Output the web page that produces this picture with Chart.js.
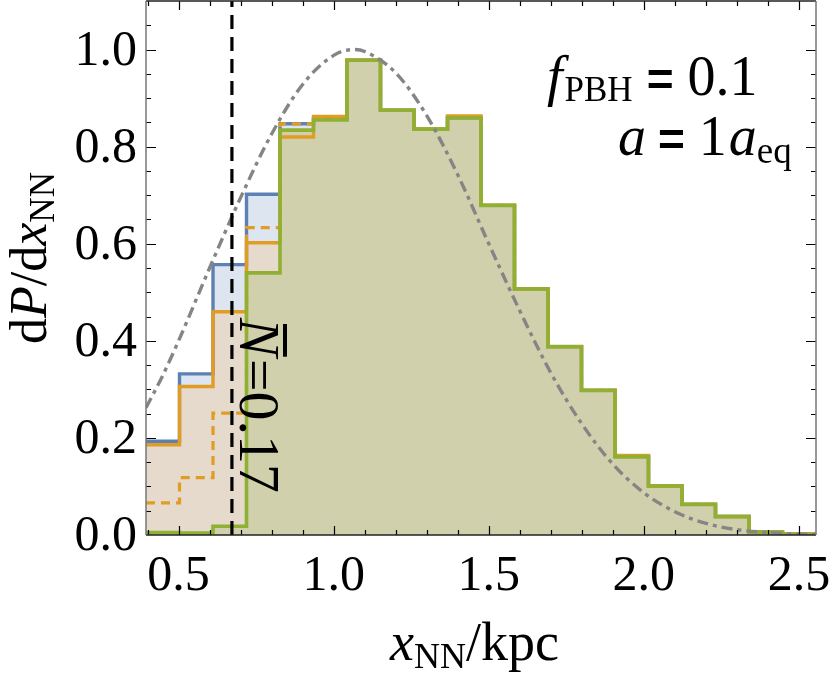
<!DOCTYPE html>
<html>
<head>
<meta charset="utf-8">
<script src="https://cdn.jsdelivr.net/npm/chart.js@4.4.1/dist/chart.umd.min.js"></script>
<style>
    html, body { margin: 0; padding: 0; background: #ffffff; }
</style>
</head>
<body>
<canvas id="nn-chart" width="834" height="675"></canvas>
<script>
// histogram bins (kpc), 20 bins over the plotted range
var binEdges = [0.395, 0.503, 0.611, 0.719, 0.827, 0.935, 1.043, 1.151, 1.259, 1.367, 1.475,
                1.583, 1.691, 1.799, 1.907, 2.015, 2.123, 2.231, 2.339, 2.447, 2.555];
var blueValues = [0.193, 0.332, 0.557, 0.702, 0.847, 0.857, 0.978, 0.875, 0.836, 0.860,
                  0.679, 0.507, 0.388, 0.298, 0.162, 0.101, 0.063, 0.038, 0.006, 0.002];
var orangeValues = [0.186, 0.306, 0.460, 0.602, 0.820, 0.862, 0.978, 0.875, 0.836, 0.863,
                    0.679, 0.507, 0.388, 0.298, 0.164, 0.101, 0.063, 0.038, 0.006, 0.002];
var orangeDashedValues = [0.066, 0.118, 0.251, 0.633, 0.847, 0.858, 0.978, 0.875, 0.836, 0.860,
                          0.679, 0.507, 0.388, 0.298, 0.162, 0.101, 0.063, 0.038, 0.006, 0.002];
var greenValues = [0.005, 0.004, 0.018, 0.540, 0.834, 0.855, 0.978, 0.875, 0.836, 0.859,
                   0.679, 0.507, 0.388, 0.298, 0.161, 0.101, 0.063, 0.038, 0.006, 0.001];

// analytic distribution (grey dot-dashed)
var curveX = [0.395, 0.45, 0.5, 0.6, 0.7, 0.8, 0.9, 1.0, 1.066, 1.1, 1.2, 1.3, 1.4, 1.5,
              1.6, 1.7, 1.8, 1.9, 2.0, 2.1, 2.2, 2.3, 2.4, 2.5, 2.555];
var curveY = [0.262, 0.330, 0.400, 0.550, 0.695, 0.826, 0.928, 0.988, 1.000, 0.996, 0.952, 0.864, 0.742, 0.600,
              0.462, 0.334, 0.229, 0.146, 0.087, 0.048, 0.024, 0.011, 0.005, 0.002, 0.001];

var meanSepX = 0.672;

var xTicks = [0.5, 1.0, 1.5, 2.0, 2.5];
var xTickLabels = ['0.5', '1.0', '1.5', '2.0', '2.5'];
var yTicks = [0, 0.2, 0.4, 0.6, 0.8, 1.0];
var yTickLabels = ['0.0', '0.2', '0.4', '0.6', '0.8', '1.0'];

var serif = '"Liberation Serif", "Times New Roman", serif';

function stepData(values) {
    var pts = [];
    for (var i = 0; i < values.length; i++) {
        pts.push({ x: binEdges[i], y: values[i] });
    }
    pts.push({ x: binEdges[values.length], y: values[values.length - 1] });
    return pts;
}

function curveData() {
    var pts = [];
    for (var i = 0; i < curveX.length; i++) {
        pts.push({ x: curveX[i], y: curveY[i] });
    }
    return pts;
}

function pieceFont(p) {
    if (p.sans) return 'bold ' + (p.size || 52) + 'px "Liberation Sans", Arial, sans-serif';
    return (p.italic ? 'italic ' : '') + (p.size || 52) + 'px ' + serif;
}

// draws a run of text pieces (italic / subscript) starting at x
function richText(ctx, parts, x, y) {
    var cx = x;
    parts.forEach(function (p) {
        ctx.font = pieceFont(p);
        ctx.fillText(p.t, cx, y + (p.dy || 0));
        cx += ctx.measureText(p.t).width + (p.gap || 0);
    });
    return cx - x;
}

function richWidth(ctx, parts) {
    var w = 0;
    parts.forEach(function (p) {
        ctx.font = pieceFont(p);
        w += ctx.measureText(p.t).width + (p.gap || 0);
    });
    return w;
}

var frameAndText = {
    id: 'frameAndText',
    afterDraw: function (chart) {
        var ctx = chart.ctx;
        var a = chart.chartArea;
        var xs = chart.scales.x;
        var ys = chart.scales.y;
        ctx.save();

        // ticks on all four sides, pointing inwards
        ctx.strokeStyle = '#000';
        ctx.lineWidth = 1.2;
        for (var i = 4; i <= 25; i++) {
            var v = i / 10;
            var px = Math.round(xs.getPixelForValue(v)) + 0.5;
            if (px < a.left + 1 || px > a.right - 1) continue;
            var len = (i % 5 === 0) ? 9 : 5;
            ctx.beginPath();
            ctx.moveTo(px, a.bottom); ctx.lineTo(px, a.bottom - len);
            ctx.moveTo(px, a.top); ctx.lineTo(px, a.top + len);
            ctx.stroke();
        }
        for (var j = 1; j <= 21; j++) {
            var vy = j * 0.05;
            var py = Math.round(ys.getPixelForValue(vy)) + 0.5;
            var ylen = (j % 4 === 0) ? 10 : 5;
            ctx.beginPath();
            ctx.moveTo(a.left, py); ctx.lineTo(a.left + ylen, py);
            ctx.moveTo(a.right, py); ctx.lineTo(a.right - ylen, py);
            ctx.stroke();
        }

        // frame
        ctx.lineWidth = 1.5;
        ctx.strokeStyle = '#222';
        ctx.beginPath();
        ctx.moveTo(a.left, a.bottom); ctx.lineTo(a.right, a.bottom);
        ctx.moveTo(a.left, a.top); ctx.lineTo(a.right, a.top);
        ctx.stroke();
        ctx.strokeStyle = '#777';
        ctx.beginPath();
        ctx.moveTo(a.left, a.top); ctx.lineTo(a.left, a.bottom);
        ctx.moveTo(a.right, a.top); ctx.lineTo(a.right, a.bottom);
        ctx.stroke();

        // tick labels
        ctx.fillStyle = '#000';
        ctx.font = '50px ' + serif;
        ctx.textBaseline = 'alphabetic';
        ctx.textAlign = 'center';
        xTicks.forEach(function (t, k) {
            ctx.fillText(xTickLabels[k], xs.getPixelForValue(t), 590);
        });
        ctx.textAlign = 'right';
        yTicks.forEach(function (t, k) {
            ctx.fillText(yTickLabels[k], 137, ys.getPixelForValue(t) + 15);
        });

        ctx.textAlign = 'left';
        // x axis title
        richText(ctx, [
            { t: 'x', italic: true, size: 54 },
            { t: 'NN', size: 36, dy: 8 },
            { t: '/kpc', size: 54 }
        ], 390, 660);

        // y axis title, rotated
        var yParts = [
            { t: 'd', size: 52 },
            { t: 'P', italic: true, size: 52 },
            { t: '/d', size: 52 },
            { t: 'x', italic: true, size: 52 },
            { t: 'NN', size: 35, dy: 8 }
        ];
        ctx.save();
        ctx.translate(46, 258);
        ctx.rotate(-Math.PI / 2);
        richText(ctx, yParts, -richWidth(ctx, yParts) / 2, 0);
        ctx.restore();

        // parameter box
        richText(ctx, [
            { t: 'f', italic: true, size: 56, gap: 2 },
            { t: 'PBH', size: 35, dy: 6, gap: 14 },
            { t: '=', sans: true, size: 46, gap: 14 },
            { t: '0.1', size: 56 }
        ], 547, 95);
        richText(ctx, [
            { t: 'a', italic: true, size: 56, gap: 12 },
            { t: '=', sans: true, size: 46, gap: 14 },
            { t: '1', size: 56, gap: 2 },
            { t: 'a', italic: true, size: 56 },
            { t: 'eq', size: 37, dy: 8 }
        ], 618, 155);

        // mean number label along the dashed line
        ctx.save();
        ctx.translate(240, 318);
        ctx.rotate(Math.PI / 2);
        ctx.font = 'italic 58px ' + serif;
        var nW = ctx.measureText('N').width;
        ctx.fillText('N', 0, 0);
        ctx.fillRect(6, -47, nW - 6, 4);
        ctx.font = '58px ' + serif;
        ctx.fillText('=0.17', nW + 2, 0);
        ctx.restore();

        ctx.restore();
    }
};

var context = document.getElementById('nn-chart').getContext('2d');
var nnChart = new Chart(context, {
    type: 'line',
    data: {
        datasets: [{
            data: [{ x: meanSepX, y: 0 }, { x: meanSepX, y: 1.1 }],
            borderColor: '#000000',
            borderWidth: 3.2,
            borderDash: [14, 8],
            pointRadius: 0,
            fill: false,
            order: 0
        }, {
            data: curveData(),
            borderColor: '#858585',
            borderWidth: 3.4,
            borderDash: [11, 5, 4, 5],
            cubicInterpolationMode: 'monotone',
            pointRadius: 0,
            fill: false,
            order: 1
        }, {
            data: stepData(greenValues),
            stepped: 'before',
            borderColor: '#8fb032',
            backgroundColor: '#d0d0ac',
            borderWidth: 3.6,
            pointRadius: 0,
            fill: 'origin',
            order: 2
        }, {
            data: stepData(orangeDashedValues),
            stepped: 'before',
            borderColor: '#e19c24',
            borderWidth: 3.2,
            borderDash: [9, 6],
            pointRadius: 0,
            fill: false,
            order: 3
        }, {
            data: stepData(orangeValues),
            stepped: 'before',
            borderColor: '#e19c24',
            backgroundColor: '#e5dacb',
            borderWidth: 3.4,
            pointRadius: 0,
            fill: 'origin',
            order: 4
        }, {
            data: stepData(blueValues),
            stepped: 'before',
            borderColor: '#5e81b5',
            backgroundColor: '#dde5f1',
            borderWidth: 3.4,
            pointRadius: 0,
            fill: 'origin',
            order: 5
        }]
    },
    options: {
        responsive: false,
        animation: false,
        layout: { padding: { left: 146, right: 18, top: 1, bottom: 140 } },
        scales: {
            x: { type: 'linear', min: 0.395, max: 2.555, display: false },
            y: { type: 'linear', min: 0, max: 1.1, display: false }
        },
        plugins: {
            legend: { display: false },
            tooltip: { enabled: false },
            filler: { drawTime: 'beforeDatasetsDraw' }
        }
    },
    plugins: [frameAndText]
});
</script>
</body>
</html>
